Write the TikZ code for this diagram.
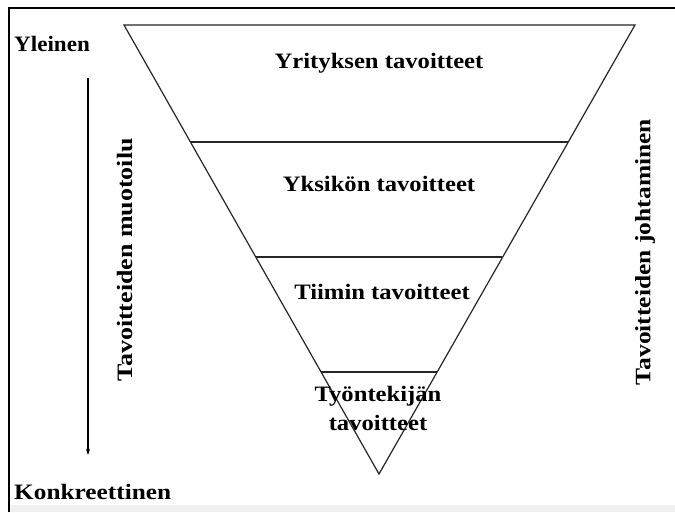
\documentclass[tikz,border=0pt]{standalone}
\usepackage{fontspec}
\setmainfont{Liberation Serif}
\usetikzlibrary{arrows.meta}
% bold labels are set slightly wide
\newcommand{\wtext}[2][1.12]{\scalebox{#1}[1]{#2}}
\begin{document}
\begin{tikzpicture}[x=1pt,y=-1pt,
  lbl/.style={font=\fontsize{22}{24}\selectfont\bfseries, inner sep=0pt},
  edge/.style={line width=1.2pt, draw=black!85}]
\useasboundingbox (0,0) rectangle (675,512);
\fill[white] (0,0) rectangle (675,512);
\fill[black!6] (9,505) rectangle (675,512);
% frame
\draw[line width=1.6pt] (9,512) -- (9,8) -- (675,8);
% funnel
\coordinate (tl) at (124,25);
\coordinate (tr) at (635,25);
\coordinate (ap) at (379,474);
\draw[edge, line join=miter] (tl) -- (tr) -- (ap) -- cycle;
\coordinate (l1) at (190,142); \coordinate (r1) at (568,142);
\coordinate (l2) at (256,257); \coordinate (r2) at (502,257);
\coordinate (l3) at (321,372); \coordinate (r3) at (437,372);
\draw[edge] (l1) -- (r1);
\draw[edge] (l2) -- (r2);
\draw[edge] (l3) -- (r3);
% level labels
\node[lbl] (t1) at (379,63) {\wtext{Yrityksen tavoitteet}};
\node[lbl] (t2) at (379,184) {\wtext{Yksikön tavoitteet}};
\node[lbl] (t3) at (382,292) {\wtext{Tiimin tavoitteet}};
\node[lbl] (t4a) at (378,396) {\wtext{Työntekijän}};
\node[lbl] (t4b) at (378,423) {\wtext{tavoitteet}};
% side labels
\node[lbl, anchor=west] (gen) at (14,44) {\wtext[1.05]{Yleinen}};
\node[lbl, anchor=west] (con) at (14,492) {\wtext[1.15]{Konkreettinen}};
\coordinate (a1) at (88,78);
\coordinate (a2) at (88,455);
\draw[line width=1.2pt, -{Stealth[length=6pt,width=4pt]}] (a1) -- (a2);
\node[lbl, rotate=90] (form) at (125,260) {\wtext[1.18]{Tavoitteiden muotoilu}};
\node[lbl, rotate=90] (lead) at (645,252) {\wtext[1.16]{Tavoitteiden johtaminen}};
\end{tikzpicture}
\end{document}
